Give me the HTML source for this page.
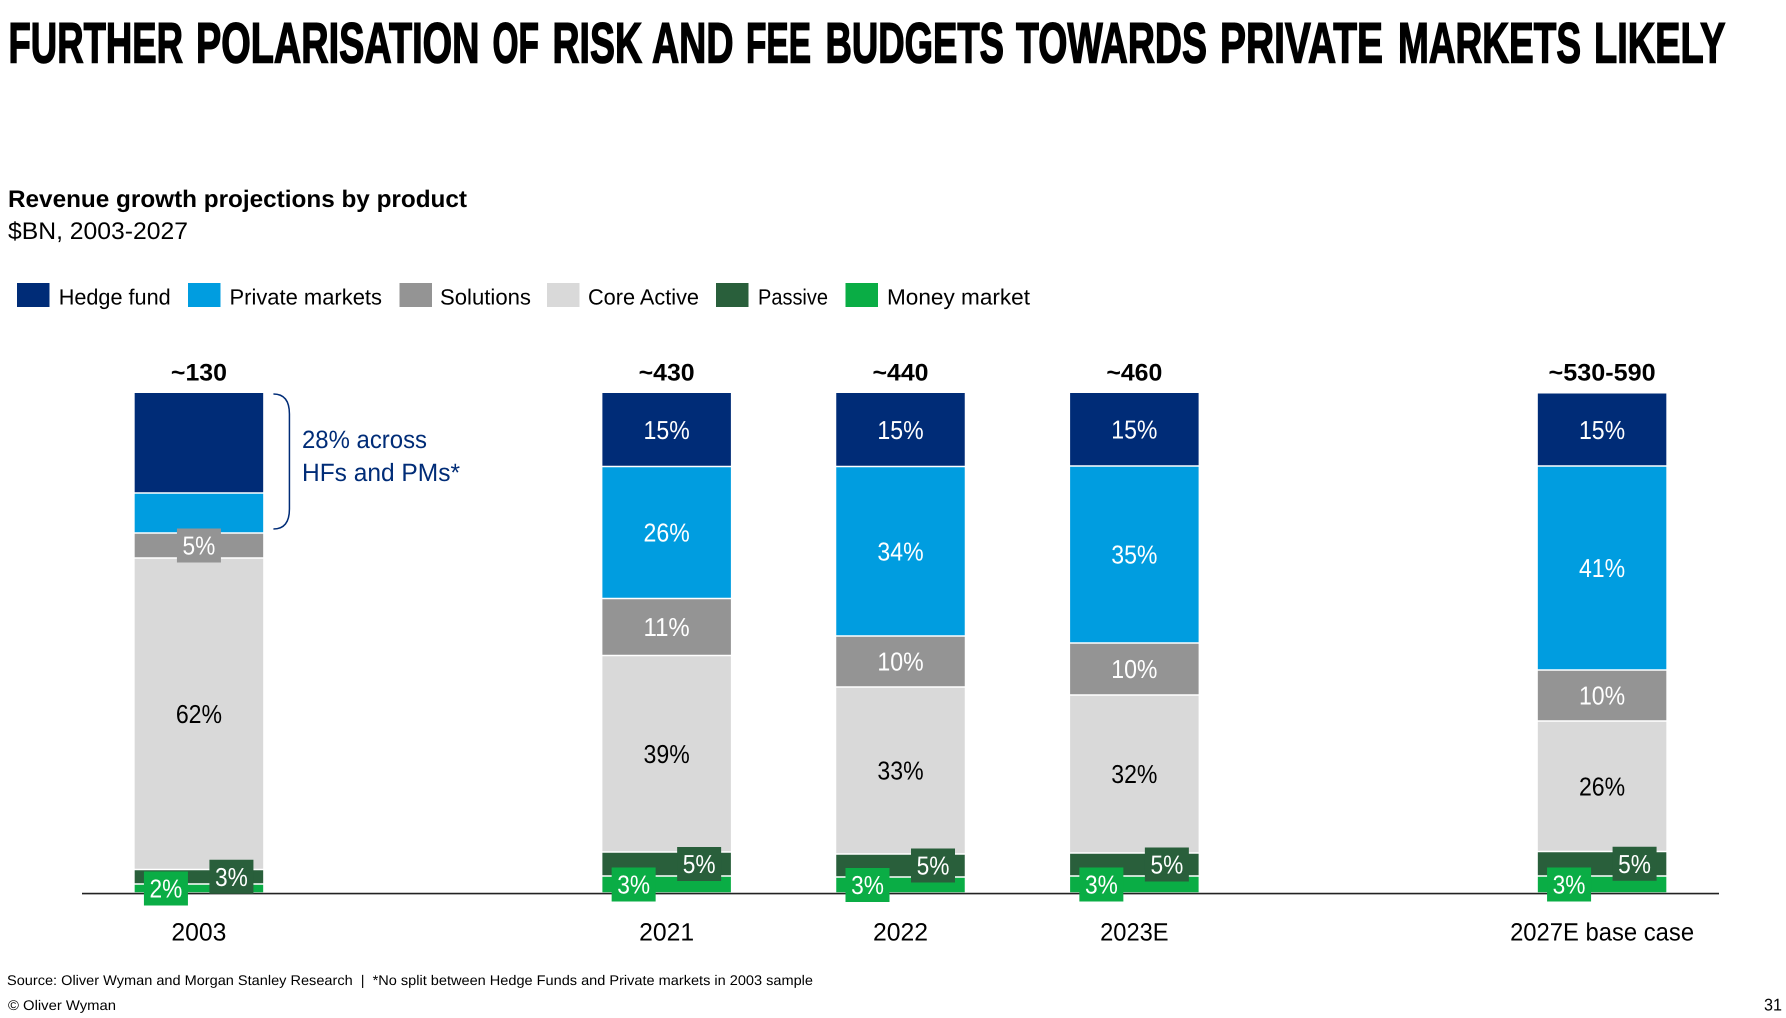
<!DOCTYPE html>
<html lang="en">
<head>
<meta charset="utf-8">
<title>Further polarisation of risk and fee budgets towards private markets likely</title>
<style>
html,body{margin:0;padding:0;background:#fff;width:1786px;height:1018px;overflow:hidden}
svg{display:block}
text{font-family:"Liberation Sans",sans-serif;text-rendering:geometricPrecision}
</style>
</head>
<body>
<svg id="chart" xmlns="http://www.w3.org/2000/svg" width="1786" height="1018" viewBox="0 0 1786 1018">
  <rect x="0" y="0" width="1786" height="1018" fill="#fff"/>
  <g font-size="57" font-weight="700" fill="#000" stroke="#000" stroke-width="1.500">
    <text x="8.500" y="62.500" textLength="174.500" lengthAdjust="spacingAndGlyphs">FURTHER</text>
    <text x="196" y="62.500" textLength="283.500" lengthAdjust="spacingAndGlyphs">POLARISATION</text>
    <text x="492.500" y="62.500" textLength="46.500" lengthAdjust="spacingAndGlyphs">OF</text>
    <text x="552.500" y="62.500" textLength="89.500" lengthAdjust="spacingAndGlyphs">RISK</text>
    <text x="652" y="62.500" textLength="81.500" lengthAdjust="spacingAndGlyphs">AND</text>
    <text x="746" y="62.500" textLength="65" lengthAdjust="spacingAndGlyphs">FEE</text>
    <text x="825.500" y="62.500" textLength="178.500" lengthAdjust="spacingAndGlyphs">BUDGETS</text>
    <text x="1016" y="62.500" textLength="191" lengthAdjust="spacingAndGlyphs">TOWARDS</text>
    <text x="1220" y="62.500" textLength="163" lengthAdjust="spacingAndGlyphs">PRIVATE</text>
    <text x="1398" y="62.500" textLength="183" lengthAdjust="spacingAndGlyphs">MARKETS</text>
    <text x="1594" y="62.500" textLength="131.500" lengthAdjust="spacingAndGlyphs">LIKELY</text>
  </g>
  <text x="8" y="207" font-size="24" font-weight="700" fill="#000" textLength="459" lengthAdjust="spacingAndGlyphs">Revenue growth projections by product</text>
  <text x="8" y="239" font-size="24" fill="#000" textLength="180" lengthAdjust="spacingAndGlyphs">$BN, 2003-2027</text>

  <g>
    <g>
      <rect x="17" y="283" width="32.500" height="24" fill="#002c77"/>
      <text x="58.700" y="304.500" font-size="22" fill="#000" textLength="112" lengthAdjust="spacingAndGlyphs">Hedge fund</text>
    </g>
    <g>
      <rect x="188" y="283" width="32.500" height="24" fill="#009de0"/>
      <text x="229.500" y="304.500" font-size="22" fill="#000" textLength="152.500" lengthAdjust="spacingAndGlyphs">Private markets</text>
    </g>
    <g>
      <rect x="399.500" y="283" width="32.500" height="24" fill="#949494"/>
      <text x="440" y="304.500" font-size="22" fill="#000" textLength="91" lengthAdjust="spacingAndGlyphs">Solutions</text>
    </g>
    <g>
      <rect x="547" y="283" width="32.500" height="24" fill="#d9d9d9"/>
      <text x="588" y="304.500" font-size="22" fill="#000" textLength="111" lengthAdjust="spacingAndGlyphs">Core Active</text>
    </g>
    <g>
      <rect x="716" y="283" width="32.500" height="24" fill="#295f3b"/>
      <text x="758" y="304.500" font-size="22" fill="#000" textLength="70" lengthAdjust="spacingAndGlyphs">Passive</text>
    </g>
    <g>
      <rect x="845.500" y="283" width="32.500" height="24" fill="#0aad45"/>
      <text x="887" y="304.500" font-size="22" fill="#000" textLength="143" lengthAdjust="spacingAndGlyphs">Money market</text>
    </g>
  </g>

  <g id="plot"></g>

  <path id="bracket" fill="none" stroke="#002c77" stroke-width="1.500"/>
  <text x="302" y="448" font-size="25" fill="#002c77" textLength="125" lengthAdjust="spacingAndGlyphs">28% across</text>
  <text x="302" y="481" font-size="25" fill="#002c77" textLength="158" lengthAdjust="spacingAndGlyphs">HFs and PMs*</text>

  <text x="7" y="985" font-size="14" fill="#000" style="white-space:pre" textLength="806" lengthAdjust="spacingAndGlyphs">Source: Oliver Wyman and Morgan Stanley Research  |  *No split between Hedge Funds and Private markets in 2003 sample</text>
  <text x="8" y="1010" font-size="14" fill="#000" textLength="108" lengthAdjust="spacingAndGlyphs">© Oliver Wyman</text>
  <text x="1764" y="1010.500" font-size="17" fill="#000" textLength="18" lengthAdjust="spacingAndGlyphs">31</text>
</svg>

<script>
// Categories along the axis; blank strings are empty bands between bars.
const categories = ['2003', '', '2021', '2022', '2023E', '', '2027E base case'];
const totals = ['~130', '', '~430', '~440', '~460', '', '~530-590'];

// Share of revenue (%) per series.
const hedgeFund = [20.0, null, 14.7, 14.7, 14.6, null, 14.5];
const privateMarkets = [8.0, null, 26.4, 33.9, 35.4, null, 40.8];
const solutions = [5.0, null, 11.4, 10.2, 10.4, null, 10.2];
const coreActive = [62.3, null, 39.3, 33.4, 31.6, null, 26.1];
const passive = [2.9, null, 4.8, 4.6, 4.6, null, 4.9];
const moneyMarket = [1.8, null, 3.4, 3.2, 3.4, null, 3.4];

const yTicks = [0, 100];

const NS = 'http://www.w3.org/2000/svg';
const plot = document.getElementById('plot');

const seriesList = [
  { key: 'hedge-fund', values: hedgeFund, fill: '#002c77', ink: '#fff', showFirst: false, nudge: 0 },
  { key: 'private-markets', values: privateMarkets, fill: '#009de0', ink: '#fff', showFirst: false, nudge: 0 },
  { key: 'solutions', values: solutions, fill: '#949494', ink: '#fff', showFirst: true, nudge: 0 },
  { key: 'core-active', values: coreActive, fill: '#d9d9d9', ink: '#000', showFirst: true, nudge: 0 },
  { key: 'passive', values: passive, fill: '#295f3b', ink: '#fff', showFirst: true, nudge: 32.5 },
  { key: 'money-market', values: moneyMarket, fill: '#0aad45', ink: '#fff', showFirst: true, nudge: -33 }
];

// Axis functions
const axisLeft = 82, axisRight = 1719, axisBase = 893, plotTop = 393, barWidth = 128.5;
const bandWidth = (axisRight - axisLeft) / categories.length;
function xCenter(i) { return axisLeft + bandWidth * (i + 0.5); }
function yScale(v) {
  return axisBase - (v - yTicks[0]) / (yTicks[1] - yTicks[0]) * (axisBase - plotTop);
}

function addText(parent, name, str, x, y, size, fill, weight, width) {
  const el = document.createElementNS(NS, 'text');
  
  
  el.setAttribute('x', x);
  el.setAttribute('y', y);
  el.setAttribute('text-anchor', 'middle');
  el.setAttribute('font-size', size);
  el.setAttribute('fill', fill);
  if (weight) el.setAttribute('font-weight', weight);
  if (width) {
    el.setAttribute('textLength', width);
    el.setAttribute('lengthAdjust', 'spacingAndGlyphs');
  }
  el.textContent = str;
  parent.appendChild(el);
  return el;
}

function percentWidth(label) {
  return (label.length - 1) * 13.4 + 19.4;
}

const labelLayer = document.createElementNS(NS, 'g');



categories.forEach(function (cat, i) {
  if (!cat) return;
  const slug = cat.split(' ')[0].toLowerCase();
  const cx = xCenter(i);
  let cum = 0;
  seriesList.slice().reverse().forEach(function (s, idx) {
    const v = s.values[i];
    const yBottom = yScale(cum);
    const yTop = yScale(cum + v);
    cum += v;
    const topInset = idx === seriesList.length - 1 ? 0 : 0.75;
    const rect = document.createElementNS(NS, 'rect');
    
    
    rect.setAttribute('x', cx - barWidth / 2);
    rect.setAttribute('y', yTop + topInset);
    rect.setAttribute('width', barWidth);
    rect.setAttribute('height', Math.max(0, yBottom - yTop - topInset - 0.75));
    rect.setAttribute('fill', s.fill);
    plot.appendChild(rect);

    if (i === 0 && !s.showFirst) return;
    const label = Math.round(v) + '%';
    const midY = (yTop + yBottom) / 2;
    const lx = cx + s.nudge;
    if (yBottom - yTop < 34) {
      const box = document.createElementNS(NS, 'rect');
      
      
      box.setAttribute('x', lx - 22);
      box.setAttribute('y', midY - 17);
      box.setAttribute('width', 44);
      box.setAttribute('height', 34);
      box.setAttribute('fill', s.fill);
      labelLayer.appendChild(box);
    }
    addText(labelLayer, 'value-label-' + slug + '-' + s.key, label, lx, midY + 9, 26, s.ink, null, percentWidth(label));
  });
  addText(plot, 'total-label-' + slug, totals[i], cx, 380.5, 24, '#000', '700', totals[i].length > 4 ? 107 : 56);
  addText(plot, 'category-label-' + slug, cat, cx, 940.5, 25, '#000', null, cat.length > 5 ? 184 : (cat.length > 4 ? 68.5 : 55));
});

const axisLine = document.createElementNS(NS, 'line');


axisLine.setAttribute('x1', axisLeft);
axisLine.setAttribute('x2', axisRight);
axisLine.setAttribute('y1', axisBase + 0.6);
axisLine.setAttribute('y2', axisBase + 0.6);
axisLine.setAttribute('stroke', '#222');
axisLine.setAttribute('stroke-width', 1.6);
plot.appendChild(axisLine);
plot.appendChild(labelLayer);

// Bracket spans the hedge fund and private markets segments of the first bar.
const bracketTop = yScale(yTicks[1]) + 1;
const bracketBottom = yScale(yTicks[1] - hedgeFund[0] - privateMarkets[0]) - 4;
const bx0 = xCenter(0) + 74.5, bx1 = xCenter(0) + 90.5;
document.getElementById('bracket').setAttribute('d',
  'M' + bx0 + ' ' + bracketTop +
  ' Q' + bx1 + ' ' + bracketTop + ' ' + bx1 + ' ' + (bracketTop + 20) +
  ' L' + bx1 + ' ' + (bracketBottom - 20) +
  ' Q' + bx1 + ' ' + bracketBottom + ' ' + bx0 + ' ' + bracketBottom);
</script>
</body>
</html>
